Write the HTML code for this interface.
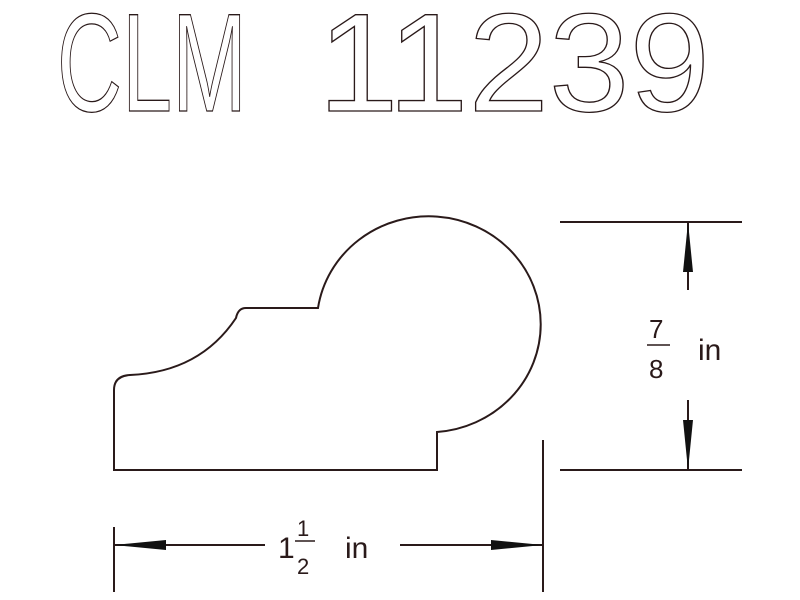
<!DOCTYPE html>
<html><head><style>html,body{margin:0;padding:0;background:#fff;width:800px;height:600px;overflow:hidden}</style></head>
<body>
<svg width="800" height="600" viewBox="0 0 800 600" xmlns="http://www.w3.org/2000/svg">
<g font-family="Liberation Sans, sans-serif" fill="none" stroke="#2a1a1a" stroke-width="1.3">
<text x="57" y="111" font-size="140" textLength="190" lengthAdjust="spacingAndGlyphs">CLM</text>
<text x="318" y="111" font-size="140" textLength="392" lengthAdjust="spacingAndGlyphs">11239</text>
</g>
<g fill="none" stroke="#2a1a1a" stroke-width="2">
<path d="M114,470 L114,390 Q114,376 130,375 Q200,372 236,318 Q238,308 246,308 L318,308 A112,108 0 1 1 437,432 L437,470 Z"/>
<line x1="543" y1="440" x2="543" y2="592"/>
<line x1="114" y1="527" x2="114" y2="592"/>
<line x1="114" y1="545" x2="265" y2="545"/>
<line x1="400" y1="545" x2="543" y2="545"/>
<line x1="560" y1="222" x2="742" y2="222"/>
<line x1="560" y1="470" x2="742" y2="470"/>
<line x1="688" y1="222" x2="688" y2="290"/>
<line x1="688" y1="400" x2="688" y2="470"/>
</g>
<g fill="#111">
<polygon points="114,545 166,540 166,550"/>
<polygon points="543,545 491,540 491,550"/>
<polygon points="688,222 683,272 693,272"/>
<polygon points="688,470 683,420 693,420"/>
</g>
<g font-family="Liberation Sans, sans-serif" fill="#2a1a1a">
<text x="278" y="558" font-size="30">1</text>
<text x="297" y="536" font-size="22">1</text>
<line x1="295" y1="541" x2="315" y2="541" stroke="#2a1a1a" stroke-width="1.5"/>
<text x="297" y="574" font-size="22">2</text>
<text x="345" y="558" font-size="30">in</text>
<text x="649" y="338" font-size="26">7</text>
<line x1="647" y1="345" x2="670" y2="345" stroke="#2a1a1a" stroke-width="1.5"/>
<text x="649" y="378" font-size="26">8</text>
<text x="698" y="360" font-size="30">in</text>
</g>
</svg>
</body></html>
